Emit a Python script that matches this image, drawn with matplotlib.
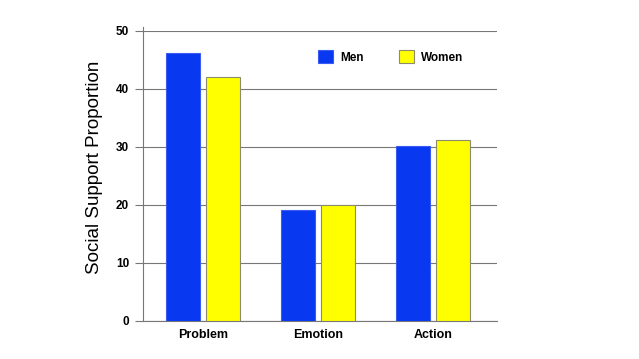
import numpy as np
import matplotlib.pyplot as plt

plt.rcParams['font.family'] = ['Liberation Sans', 'DejaVu Sans']

categories = ["Problem", "Emotion", "Action"]
men = [46.2, 19.2, 30.1]
women = [42.1, 20.0, 31.2]
yticks = [0, 10, 20, 30, 40, 50]

fig = plt.figure(figsize=(6.39, 3.59), dpi=100)
ax = fig.add_axes([0.224, 0.106, 0.554, 0.808])

x = np.arange(len(categories))
w = 0.295
off = 0.175
ax.bar(x - off, men, w, color="#0838f0", edgecolor="#3a5cf5", linewidth=0.8, label="Men", zorder=3)
ax.bar(x + off, women, w, color="#ffff00", edgecolor="#8c8c6a", linewidth=0.8, label="Women", zorder=3)

ax.set_xlim(-0.52, 2.56)
ax.set_ylim(0, 50)
ax.set_yticks(yticks)
ax.set_yticklabels([str(t) for t in yticks], fontsize=8.5, fontweight="bold")
ax.set_xticks(x)
ax.set_xticklabels(categories, fontsize=9, fontweight="bold")
ax.tick_params(axis="x", length=0, pad=6)
ax.tick_params(axis="y", length=6, width=0.8, color="#777777", pad=4)
ax.yaxis.grid(True, color="#777777", linewidth=0.8, zorder=0)
ax.set_axisbelow(True)

for s in ["top", "right"]:
    ax.spines[s].set_visible(False)
ax.spines["left"].set_color("#777777")
ax.spines["bottom"].set_color("#777777")
ax.spines["left"].set_bounds(0, 50.7)

ax.set_ylabel("Social Support Proportion", fontsize=13.5)
ax.yaxis.set_label_coords(-0.113, 0.528)

ax.legend(ncol=2, frameon=False, loc="upper left", bbox_to_anchor=(0.463, 0.97),
          prop={"weight": "bold", "size": 8.5}, handlelength=1.3, handleheight=1.3,
          columnspacing=3.0, handletextpad=0.6)

fig.savefig("out.png", dpi=100)
